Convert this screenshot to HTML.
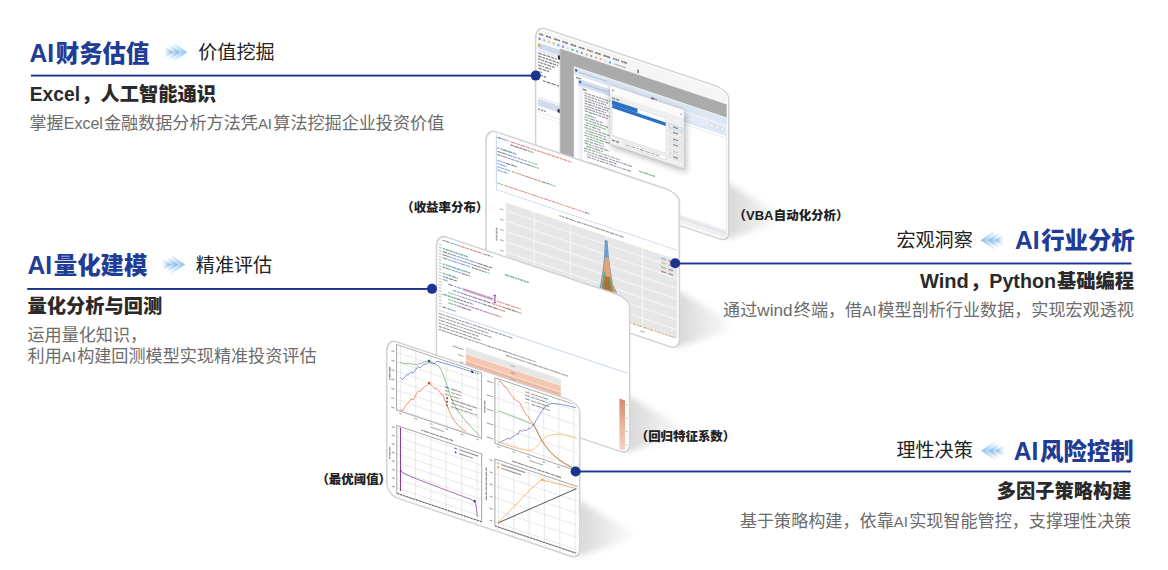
<!DOCTYPE html>
<html lang="zh"><head><meta charset="utf-8"><title>AI</title>
<style>html,body{margin:0;padding:0;background:#fff}body{width:1168px;height:570px;overflow:hidden;font-family:"Liberation Sans",sans-serif}svg{display:block;position:absolute;left:0;top:0}
.tl{position:absolute;left:0;top:0;width:1168px;height:570px;overflow:hidden}
.t{position:absolute;white-space:nowrap;line-height:1.05;color:transparent;font-family:"Liberation Sans",sans-serif}
svg text{font-family:"Liberation Sans","Noto Sans CJK SC",sans-serif}</style>
</head><body>
<div class="tl">
<div class="t" style="left:30.0px;top:36.1px;font-size:26.7px;font-weight:900">AI财务估值</div>
<div class="t" style="left:198.8px;top:41.1px;font-size:19.1px;font-weight:400">价值挖掘</div>
<div class="t" style="left:30.9px;top:81.6px;font-size:20.8px;font-weight:900">Excel，人工智能通识</div>
<div class="t" style="left:30.5px;top:111.0px;font-size:18.2px;font-weight:400">掌握Excel金融数据分析方法凭AI算法挖掘企业投资价值</div>
<div class="t" style="left:28.0px;top:248.4px;font-size:26.7px;font-weight:900">AI量化建模</div>
<div class="t" style="left:196.2px;top:253.3px;font-size:19.1px;font-weight:400">精准评估</div>
<div class="t" style="left:28.3px;top:294.2px;font-size:19.2px;font-weight:900">量化分析与回测</div>
<div class="t" style="left:28.0px;top:324.8px;font-size:17.1px;font-weight:400">运用量化知识，</div>
<div class="t" style="left:28.0px;top:344.2px;font-size:18.2px;font-weight:400">利用AI构建回测模型实现精准投资评估</div>
<div class="t" style="left:1015.4px;top:223.7px;font-size:26.7px;font-weight:900">AI行业分析</div>
<div class="t" style="left:897.1px;top:228.6px;font-size:19.1px;font-weight:400">宏观洞察</div>
<div class="t" style="left:920.4px;top:270.1px;font-size:20.8px;font-weight:900">Wind，Python基础编程</div>
<div class="t" style="left:723.7px;top:299.1px;font-size:18.2px;font-weight:400">通过wind终端，借AI模型剖析行业数据，实现宏观透视</div>
<div class="t" style="left:1014.2px;top:434.3px;font-size:26.7px;font-weight:900">AI风险控制</div>
<div class="t" style="left:897.0px;top:438.6px;font-size:19.1px;font-weight:400">理性决策</div>
<div class="t" style="left:997.5px;top:480.0px;font-size:19.2px;font-weight:900">多因子策略构建</div>
<div class="t" style="left:740.4px;top:509.6px;font-size:18.2px;font-weight:400">基于策略构建，依靠AI实现智能管控，支撑理性决策</div>
<div class="t" style="left:741.6px;top:207.9px;font-size:12.6px;font-weight:900">（VBA自动化分析）</div>
<div class="t" style="left:409.2px;top:200.0px;font-size:12.4px;font-weight:900">（收益率分布）</div>
<div class="t" style="left:643.7px;top:429.6px;font-size:12.4px;font-weight:900">（回归特征系数）</div>
<div class="t" style="left:324.4px;top:472.6px;font-size:12.4px;font-weight:900">（最优阈值）</div>
</div>
<svg width="1168" height="570" viewBox="0 0 1168 570">
<defs>
<linearGradient id="ar" x1="0" x2="1" y1="0" y2="0"><stop offset="0" stop-color="#6eb0e6" stop-opacity="0"/><stop offset="1" stop-color="#6eb0e6" stop-opacity="0.85"/></linearGradient>
<linearGradient id="al" x1="1" x2="0" y1="0" y2="0"><stop offset="0" stop-color="#6eb0e6" stop-opacity="0"/><stop offset="1" stop-color="#6eb0e6" stop-opacity="0.85"/></linearGradient>
<filter id="blur8" x="-50%%" y="-50%%" width="200%%" height="200%%"><feGaussianBlur stdDeviation="8"/></filter>
<filter id="blur3" x="-50%%" y="-50%%" width="200%%" height="200%%"><feGaussianBlur stdDeviation="3"/></filter>
</defs>
<rect width="1168" height="570" fill="#fff"/>
<text y="61.9" fill="#213c96" font-weight="900"><tspan x="29.5" font-size="26" textLength="24.6" lengthAdjust="spacingAndGlyphs">AI</tspan><tspan x="55.8" font-size="23.4">财务估值</tspan></text>
<polygon fill="url(#ar)" points="164.40,46.10 164.40,58.30 173.10,52.20"/><polygon fill="url(#ar)" points="168.10,43.60 168.10,60.80 180.00,52.20"/><polygon fill="url(#ar)" points="171.90,41.40 171.90,63.00 187.20,52.20"/>
<text x="198.2" y="59.4" font-size="19.1" fill="#222">价值挖掘</text>
<text y="100.5" fill="#2a2a2a" font-weight="900"><tspan x="29.8" font-size="19.5" textLength="50.2" lengthAdjust="spacingAndGlyphs">Excel</tspan><tspan x="81.2" font-size="19.25">，人工智能通识</tspan></text>
<text y="128.5" fill="#6c6c6c" font-size="17.1"><tspan x="29.5">掌握</tspan><tspan x="63.7" font-size="16" textLength="39.2" lengthAdjust="spacingAndGlyphs">Excel</tspan><tspan x="104.0">金融数据分析方法凭</tspan><tspan x="257.9" font-size="15.5" textLength="14.1" lengthAdjust="spacingAndGlyphs">AI</tspan><tspan x="273.3">算法挖掘企业投资价值</tspan></text>
<text y="274.2" fill="#213c96" font-weight="900"><tspan x="27.5" font-size="26" textLength="24.6" lengthAdjust="spacingAndGlyphs">AI</tspan><tspan x="53.8" font-size="23.4">量化建模</tspan></text>
<polygon fill="url(#ar)" points="162.30,258.50 162.30,270.70 171.00,264.60"/><polygon fill="url(#ar)" points="166.00,256.00 166.00,273.20 177.90,264.60"/><polygon fill="url(#ar)" points="169.80,253.80 169.80,275.40 185.10,264.60"/>
<text x="195.8" y="271.7" font-size="19.1" fill="#222">精准评估</text>
<text x="27.5" y="312.5" font-size="19.25" font-weight="900" fill="#2a2a2a">量化分析与回测</text>
<text x="27.5" y="340.7" font-size="17.1" fill="#6c6c6c">运用量化知识，</text>
<text y="361.8" fill="#6c6c6c" font-size="17.1"><tspan x="27.6">利用</tspan><tspan x="61.8" font-size="15.5" textLength="14.1" lengthAdjust="spacingAndGlyphs">AI</tspan><tspan x="77.2">构建回测模型实现精准投资评估</tspan></text>
<text y="249.4" fill="#213c96" font-weight="900"><tspan x="1014.9" font-size="26" textLength="24.6" lengthAdjust="spacingAndGlyphs">AI</tspan><tspan x="1041.2" font-size="23.4">行业分析</tspan></text>
<polygon fill="url(#al)" points="1003.50,234.20 1003.50,246.40 994.80,240.30"/><polygon fill="url(#al)" points="999.80,231.70 999.80,248.90 987.90,240.30"/><polygon fill="url(#al)" points="996.00,229.50 996.00,251.10 980.70,240.30"/>
<text x="896.4" y="247.0" font-size="19.1" fill="#222">宏观洞察</text>
<text y="287.6" fill="#2a2a2a" font-weight="900"><tspan x="920.0" font-size="20" textLength="48.9" lengthAdjust="spacingAndGlyphs">Wind</tspan><tspan x="970.0" font-size="19.25">，</tspan><tspan x="989.3" font-size="19.7" textLength="66.7" lengthAdjust="spacingAndGlyphs">Python</tspan><tspan x="1057.0" font-size="19.25">基础编程</tspan></text>
<text y="316.2" fill="#6c6c6c" font-size="17.1"><tspan x="723.1">通过</tspan><tspan x="757.3" font-size="17" textLength="35.3" lengthAdjust="spacingAndGlyphs">wind</tspan><tspan x="793.8">终端，借</tspan><tspan x="862.2" font-size="15.5" textLength="14.1" lengthAdjust="spacingAndGlyphs">AI</tspan><tspan x="877.5">模型剖析行业数据，实现宏观透视</tspan></text>
<text y="459.9" fill="#213c96" font-weight="900"><tspan x="1013.7" font-size="26" textLength="24.6" lengthAdjust="spacingAndGlyphs">AI</tspan><tspan x="1040.0" font-size="23.4">风险控制</tspan></text>
<polygon fill="url(#al)" points="1004.00,444.70 1004.00,456.90 995.30,450.80"/><polygon fill="url(#al)" points="1000.30,442.20 1000.30,459.40 988.40,450.80"/><polygon fill="url(#al)" points="996.50,440.00 996.50,461.60 981.20,450.80"/>
<text x="896.4" y="457.0" font-size="19.1" fill="#222">理性决策</text>
<text x="996.7" y="498.3" font-size="19.25" font-weight="900" fill="#2a2a2a">多因子策略构建</text>
<text y="526.7" fill="#6c6c6c" font-size="17.1"><tspan x="739.9">基于策略构建，依靠</tspan><tspan x="893.8" font-size="15.5" textLength="14.1" lengthAdjust="spacingAndGlyphs">AI</tspan><tspan x="909.2">实现智能管控，支撑理性决策</tspan></text>
<text y="219.8" fill="#222" font-weight="900" font-size="12.45"><tspan x="733.5">（</tspan><tspan x="746.0" font-size="12.6" textLength="27.5" lengthAdjust="spacingAndGlyphs">VBA</tspan><tspan x="773.8">自动化分析）</tspan></text>
<text x="401.2" y="211.8" font-size="12.45" font-weight="900" fill="#222">（收益率分布）</text>
<text x="635.7" y="441.3" font-size="12.45" font-weight="900" fill="#222">（回归特征系数）</text>
<text x="316.4" y="484.4" font-size="12.45" font-weight="900" fill="#222">（最优阈值）</text>
<linearGradient id="sh0" gradientUnits="userSpaceOnUse" x1="729.3" x2="785.3" y1="0" y2="0"><stop offset="0" stop-color="#000" stop-opacity="0.15"/><stop offset="1" stop-color="#000" stop-opacity="0"/></linearGradient>
<polygon filter="url(#blur3)" fill="url(#sh0)" points="725.3,181.8 783.3,215.8 783.3,220.8 725.3,239.8"/>
<g transform="matrix(1 0.3350 0 1 535.00 24.70)">
<path d="M10.10 0.60 L179.70 0.60 A14.00 8.50 0 0 1 193.70 9.10 L193.70 143.40 A9.00 9.00 0 0 1 184.70 152.40 L11.60 152.40 A11.00 12.50 0 0 1 0.60 139.90 L0.60 13.60 A9.50 13.00 0 0 1 10.10 0.60 Z" fill="#fff" stroke="#d2d4d4" stroke-width="1.6"/>
<clipPath id="pc0"><path d="M10.10 2.60 L179.70 2.60 A12.00 6.50 0 0 1 191.70 9.10 L191.70 143.40 A7.00 7.00 0 0 1 184.70 150.40 L11.60 150.40 A9.00 10.50 0 0 1 2.60 139.90 L2.60 13.60 A7.50 11.00 0 0 1 10.10 2.60 Z"/></clipPath>
<g clip-path="url(#pc0)">
<rect x="0.00" y="0.00" width="194.30" height="153.00" fill="#fff"/><rect x="0.00" y="0.00" width="194.30" height="15.50" fill="#f5f5f5"/><path d="M3.2 7.70h2.6M6.1 7.70h2.1" stroke="#222" stroke-width="1.68" stroke-opacity="0.58" fill="none"/><path d="M11.0 7.70h2.1M13.5 7.70h2.4" stroke="#222" stroke-width="1.68" stroke-opacity="0.58" fill="none"/><path d="M19.2 7.70h3.2M22.7 7.70h2.3" stroke="#222" stroke-width="1.68" stroke-opacity="0.58" fill="none"/><path d="M27.4 7.70h1.9M29.7 7.70h3.1" stroke="#222" stroke-width="1.68" stroke-opacity="0.58" fill="none"/><path d="M35.6 7.70h2.5M38.5 7.70h2.6" stroke="#222" stroke-width="1.68" stroke-opacity="0.58" fill="none"/><path d="M43.8 7.70h2.7M46.9 7.70h2.7" stroke="#222" stroke-width="1.68" stroke-opacity="0.58" fill="none"/><path d="M52.0 7.70h1.7M54.0 7.70h1.8M56.2 7.70h1.6" stroke="#222" stroke-width="1.68" stroke-opacity="0.58" fill="none"/><path d="M60.2 7.70h2.8M63.3 7.70h2.4" stroke="#222" stroke-width="1.68" stroke-opacity="0.58" fill="none"/><path d="M68.4 7.70h3.2M71.9 7.70h3.2" stroke="#222" stroke-width="1.68" stroke-opacity="0.58" fill="none"/><path d="M78.2 7.70h2.0M80.6 7.70h2.0M83.0 7.70h1.0" stroke="#222" stroke-width="1.68" stroke-opacity="0.58" fill="none"/><path d="M86.4 7.70h2.1M88.9 7.70h2.1M91.3 7.70h0.9" stroke="#222" stroke-width="1.68" stroke-opacity="0.58" fill="none"/><rect x="3.60" y="11.50" width="1.90" height="2.10" fill="#3b5fc4" opacity="0.8"/><rect x="8.30" y="11.50" width="1.90" height="2.10" fill="#aaa" opacity="0.8"/><rect x="13.00" y="11.50" width="1.90" height="2.10" fill="#bbb" opacity="0.8"/><rect x="17.70" y="11.50" width="1.90" height="2.10" fill="#d9a520" opacity="0.8"/><rect x="22.40" y="11.50" width="1.90" height="2.10" fill="#4a78d0" opacity="0.8"/><rect x="27.10" y="11.50" width="1.90" height="2.10" fill="#4a78d0" opacity="0.8"/><rect x="31.80" y="11.50" width="1.90" height="2.10" fill="#ccc" opacity="0.8"/><rect x="36.50" y="11.50" width="1.90" height="2.10" fill="#3aa04a" opacity="0.8"/><rect x="41.20" y="11.50" width="1.90" height="2.10" fill="#5b8ad8" opacity="0.8"/><rect x="45.90" y="11.50" width="1.90" height="2.10" fill="#5b8ad8" opacity="0.8"/><rect x="50.60" y="11.50" width="1.90" height="2.10" fill="#d09a4a" opacity="0.8"/><rect x="55.30" y="11.50" width="1.90" height="2.10" fill="#6a7fd8" opacity="0.8"/><rect x="60.00" y="11.50" width="1.90" height="2.10" fill="#d0a840" opacity="0.8"/><rect x="64.70" y="11.50" width="1.90" height="2.10" fill="#d89a48" opacity="0.8"/><rect x="69.40" y="11.50" width="1.90" height="2.10" fill="#ccc" opacity="0.8"/><rect x="74.10" y="11.50" width="1.90" height="2.10" fill="#3f7fe0" opacity="0.8"/><path d="M79.0 12.60h12.0" stroke="#555" stroke-width="1.28" stroke-opacity="0.40" fill="none"/><rect x="102.60" y="10.40" width="0.90" height="3.60" fill="#222"/><rect x="25.50" y="15.50" width="194.30" height="153.00" fill="#ababab"/><rect x="2.50" y="16.80" width="22.50" height="5.60" fill="#cddaec"/><rect x="3.20" y="18.20" width="2.20" height="2.20" fill="#d9a520"/><rect x="22.80" y="22.60" width="2.20" height="4.20" fill="#333"/><rect x="2.50" y="22.60" width="20.30" height="3.20" fill="#e9eef6"/><path d="M3.2 27.20h3.6M7.6 27.20h3.4M11.8 27.20h3.6M16.2 27.20h2.7M19.7 27.20h1.9" stroke="#1a1a1a" stroke-width="1.52" stroke-opacity="0.49" fill="none"/><path d="M3.2 30.20h3.5M7.5 30.20h2.6M10.9 30.20h2.5M14.2 30.20h2.5M17.5 30.20h3.4M21.6 30.20h2.6" stroke="#1a1a1a" stroke-width="1.52" stroke-opacity="0.49" fill="none"/><path d="M3.2 33.20h2.5M6.5 33.20h2.6M9.8 33.20h3.0M13.6 33.20h3.8M18.2 33.20h2.9M21.9 33.20h1.3" stroke="#1a1a1a" stroke-width="1.52" stroke-opacity="0.49" fill="none"/><path d="M3.2 36.20h1.5M5.5 36.20h2.4M8.7 36.20h2.7M12.2 36.20h3.6M16.7 36.20h2.9" stroke="#1a1a1a" stroke-width="1.52" stroke-opacity="0.49" fill="none"/><path d="M3.2 39.20h3.6M7.6 39.20h1.6M10.0 39.20h3.6M14.4 39.20h1.9" stroke="#1a1a1a" stroke-width="1.52" stroke-opacity="0.49" fill="none"/><path d="M3.2 42.20h3.8M7.8 42.20h3.4M12.0 42.20h2.1" stroke="#1a1a1a" stroke-width="1.52" stroke-opacity="0.49" fill="none"/><path d="M3.2 45.60h4.0" stroke="#2e8e3e" stroke-width="1.44" stroke-opacity="0.58" fill="none"/><path d="M5.2 48.80h2.7M8.9 48.80h2.3" stroke="#222" stroke-width="1.44" stroke-opacity="0.54" fill="none"/><path d="M8.0 53.40h2.5M11.5 53.40h4.0M16.4 53.40h4.5M22.0 53.40h2.0" stroke="#222" stroke-width="1.44" stroke-opacity="0.54" fill="none"/><line x1="2.50" y1="71.50" x2="24.50" y2="71.50" stroke="#c8c8c8" stroke-width="0.50"/><rect x="2.50" y="73.00" width="22.50" height="6.80" fill="#d0dcee"/><rect x="22.60" y="76.50" width="2.20" height="3.40" fill="#333"/><path d="M3.2 83.20h1.7M5.9 83.20h2.4M9.2 83.20h1.6" stroke="#222" stroke-width="1.44" stroke-opacity="0.54" fill="none"/><line x1="2.50" y1="86.50" x2="24.50" y2="86.50" stroke="#d5d5d5" stroke-width="0.50"/><line x1="2.50" y1="90.00" x2="24.50" y2="90.00" stroke="#e2e2e2" stroke-width="0.50"/><line x1="25.20" y1="15.50" x2="25.20" y2="153.00" stroke="#8e8e8e" stroke-width="0.50"/><rect x="39.00" y="29.00" width="194.30" height="153.00" fill="#fff"/><rect x="39.00" y="29.00" width="194.30" height="7.60" fill="#dde6f3"/><rect x="40.20" y="30.60" width="2.00" height="2.60" fill="#2f5fb0"/><path d="M44.0 32.60h28.0" stroke="#8d9bb5" stroke-width="1.20" stroke-opacity="0.43" fill="none"/><line x1="39.00" y1="29.00" x2="194.30" y2="29.00" stroke="#f4f7fb" stroke-width="0.70"/><path d="M116.0 34.40h3.6M120.6 34.40h0.9" stroke="#111" stroke-width="1.60" stroke-opacity="0.65" fill="none"/><path d="M41.2 39.00h5.0" stroke="#222" stroke-width="1.44" stroke-opacity="0.58" fill="none"/><rect x="104.00" y="37.00" width="194.30" height="9.50" fill="#e4ebf6"/><line x1="104.00" y1="46.60" x2="194.30" y2="46.60" stroke="#b9c8e2" stroke-width="0.50"/><line x1="104.00" y1="49.60" x2="194.30" y2="49.60" stroke="#cfd9ea" stroke-width="0.50"/><rect x="174.50" y="40.00" width="4.00" height="3.60" fill="#eef2f9" stroke="#b5c2da" stroke-width="0.35"/><rect x="180.00" y="40.00" width="4.00" height="3.60" fill="#eef2f9" stroke="#b5c2da" stroke-width="0.35"/><rect x="185.50" y="40.00" width="4.00" height="3.60" fill="#eef2f9" stroke="#b5c2da" stroke-width="0.35"/><line x1="39.20" y1="29.00" x2="39.20" y2="153.00" stroke="#e8eef8" stroke-width="0.80"/><rect x="43.00" y="39.50" width="62.00" height="153.00" fill="#fff"/><rect x="43.00" y="39.50" width="62.00" height="7.00" fill="#d3dff1"/><rect x="44.20" y="41.00" width="2.00" height="2.60" fill="#2f5fb0"/><path d="M48.0 43.00h24.0" stroke="#8d9bb5" stroke-width="1.20" stroke-opacity="0.43" fill="none"/><rect x="43.00" y="46.50" width="4.00" height="153.00" fill="#f1f4f9"/><line x1="47.00" y1="46.50" x2="47.00" y2="153.00" stroke="#c9d3e4" stroke-width="0.40"/><path d="M47.6 48.60h4.0" stroke="#222" stroke-width="1.44" stroke-opacity="0.58" fill="none"/><path d="M49.5 51.60h2.5M52.7 51.60h3.4M56.8 51.60h3.4M61.0 51.60h1.9M63.6 51.60h2.6M66.9 51.60h2.5M70.1 51.60h2.9M73.7 51.60h1.3" stroke="#2a2346" stroke-width="1.28" stroke-opacity="0.47" fill="none"/><path d="M49.5 54.15h2.9M53.1 54.15h2.4M56.2 54.15h3.2M60.1 54.15h1.9M62.7 54.15h2.2M65.6 54.15h2.2M68.5 54.15h1.6M70.8 54.15h2.2" stroke="#2a2346" stroke-width="1.28" stroke-opacity="0.47" fill="none"/><path d="M49.5 56.70h2.9M53.1 56.70h3.0M56.8 56.70h2.2M59.7 56.70h2.7M63.1 56.70h2.2M66.0 56.70h2.9M69.5 56.70h1.5" stroke="#2a2346" stroke-width="1.28" stroke-opacity="0.47" fill="none"/><path d="M49.5 59.25h2.9M53.1 59.25h3.6M57.4 59.25h2.8M61.0 59.25h1.5M63.2 59.25h2.5M66.3 59.25h1.9M69.0 59.25h2.9M72.5 59.25h1.6" stroke="#2a2346" stroke-width="1.28" stroke-opacity="0.47" fill="none"/><path d="M49.5 61.80h3.0M53.2 61.80h3.5M57.5 61.80h2.0M60.2 61.80h1.8M62.7 61.80h3.9M67.3 61.80h3.3M71.3 61.80h1.7" stroke="#2a2346" stroke-width="1.28" stroke-opacity="0.47" fill="none"/><path d="M49.5 64.35h1.6M51.8 64.35h3.0M55.5 64.35h3.4M59.6 64.35h2.4M62.7 64.35h2.9M66.3 64.35h2.7M69.7 64.35h1.3" stroke="#2a2346" stroke-width="1.28" stroke-opacity="0.47" fill="none"/><path d="M49.5 66.90h3.2M53.4 66.90h3.2M57.3 66.90h2.7M60.7 66.90h2.1M63.5 66.90h3.7M67.9 66.90h2.4M71.0 66.90h2.2M73.9 66.90h1.1" stroke="#2a2346" stroke-width="1.28" stroke-opacity="0.47" fill="none"/><path d="M49.5 69.45h3.5M53.7 69.45h3.4M57.8 69.45h2.2M60.7 69.45h1.8M63.3 69.45h2.8M66.8 69.45h3.0M70.6 69.45h2.4" stroke="#2a2346" stroke-width="1.28" stroke-opacity="0.47" fill="none"/><path d="M50.0 73.00h2.5M53.0 73.00h5.8M59.4 73.00h1.6" stroke="#2f9a3c" stroke-width="1.36" stroke-opacity="0.58" fill="none"/><path d="M49.5 75.60h2.1M52.4 75.60h2.0M55.2 75.60h4.8M60.8 75.60h2.9M64.6 75.60h2.9" stroke="#23233a" stroke-width="1.20" stroke-opacity="0.45" fill="none"/><path d="M49.5 78.20h3.7M54.0 78.20h2.5M57.3 78.20h3.6M61.8 78.20h2.5M65.0 78.20h4.0M69.8 78.20h3.2" stroke="#23233a" stroke-width="1.20" stroke-opacity="0.45" fill="none"/><path d="M51.0 80.80h3.7M55.2 80.80h2.5M58.2 80.80h3.7M62.4 80.80h3.8M66.7 80.80h3.8" stroke="#2f9a3c" stroke-width="1.36" stroke-opacity="0.58" fill="none"/><path d="M49.5 83.40h4.1M54.4 83.40h1.8M57.0 83.40h4.4M62.2 83.40h3.3" stroke="#23233a" stroke-width="1.20" stroke-opacity="0.45" fill="none"/><path d="M49.5 86.00h3.1M53.4 86.00h3.2M57.4 86.00h1.9M60.1 86.00h2.5M63.4 86.00h2.9M67.0 86.00h4.1M71.9 86.00h2.6" stroke="#23233a" stroke-width="1.20" stroke-opacity="0.45" fill="none"/><path d="M51.0 88.60h2.8M54.3 88.60h5.2M60.0 88.60h2.3M62.8 88.60h5.4M68.7 88.60h2.3" stroke="#2f9a3c" stroke-width="1.36" stroke-opacity="0.58" fill="none"/><path d="M49.5 91.20h3.0M53.3 91.20h4.9M59.0 91.20h4.3M64.1 91.20h2.7M67.6 91.20h3.9" stroke="#23233a" stroke-width="1.20" stroke-opacity="0.45" fill="none"/><path d="M49.5 93.80h2.2M52.5 93.80h1.8M55.1 93.80h2.0M57.9 93.80h2.0M60.8 93.80h2.8M64.4 93.80h4.8M70.0 93.80h4.5" stroke="#23233a" stroke-width="1.20" stroke-opacity="0.45" fill="none"/><path d="M51.0 96.40h3.4M54.9 96.40h2.8M58.2 96.40h5.4M64.1 96.40h2.2M66.7 96.40h2.1" stroke="#2f9a3c" stroke-width="1.36" stroke-opacity="0.58" fill="none"/><path d="M49.5 99.00h4.5M54.8 99.00h3.1M58.7 99.00h4.6M64.1 99.00h2.4M67.3 99.00h1.7" stroke="#23233a" stroke-width="1.20" stroke-opacity="0.45" fill="none"/><path d="M49.5 101.60h3.6M53.9 101.60h2.6M57.3 101.60h1.7M59.8 101.60h4.3M64.9 101.60h3.4M69.1 101.60h3.7M73.6 101.60h0.9" stroke="#23233a" stroke-width="1.20" stroke-opacity="0.45" fill="none"/><path d="M51.0 104.20h5.7M57.2 104.20h2.3M60.0 104.20h5.2M65.7 104.20h2.3" stroke="#2f9a3c" stroke-width="1.36" stroke-opacity="0.58" fill="none"/><path d="M49.0 106.80h3.6M53.4 106.80h3.0M57.2 106.80h2.9M60.9 106.80h1.6M63.4 106.80h2.1M66.3 106.80h1.5M68.6 106.80h3.6M73.0 106.80h1.6M75.4 106.80h4.5M80.7 106.80h1.9M83.4 106.80h1.6" stroke="#23233a" stroke-width="1.20" stroke-opacity="0.45" fill="none"/><path d="M49.0 109.40h3.0M52.8 109.40h2.9M56.5 109.40h2.9M60.3 109.40h2.2M63.3 109.40h4.5M68.6 109.40h4.8M74.3 109.40h2.6M77.6 109.40h2.4M80.9 109.40h3.9M85.6 109.40h1.9M88.3 109.40h3.7M92.8 109.40h4.2" stroke="#23233a" stroke-width="1.20" stroke-opacity="0.45" fill="none"/><path d="M52.0 112.00h1.6M54.4 112.00h2.1M57.2 112.00h1.7M59.7 112.00h1.9M62.4 112.00h2.1M65.3 112.00h4.6M70.7 112.00h2.2M73.8 112.00h3.8M78.3 112.00h3.1" stroke="#23233a" stroke-width="1.20" stroke-opacity="0.45" fill="none"/><path d="M52.0 114.60h3.8M56.6 114.60h4.5M61.9 114.60h2.4M65.1 114.60h4.5M70.4 114.60h3.0M74.3 114.60h3.8M78.8 114.60h2.5M82.1 114.60h1.5M84.4 114.60h2.0M87.3 114.60h3.5M91.5 114.60h4.5" stroke="#23233a" stroke-width="1.20" stroke-opacity="0.45" fill="none"/><path d="M54.0 119.80h4.3M59.1 119.80h4.7M64.7 119.80h4.7M70.2 119.80h2.8M73.8 119.80h2.3M76.9 119.80h2.9" stroke="#23233a" stroke-width="1.20" stroke-opacity="0.45" fill="none"/><path d="M55.0 122.40h3.1M58.9 122.40h3.9M63.6 122.40h1.8M66.2 122.40h2.7M69.7 122.40h2.8M73.3 122.40h2.9M77.0 122.40h4.4M82.2 122.40h3.6M86.5 122.40h2.5" stroke="#23233a" stroke-width="1.20" stroke-opacity="0.45" fill="none"/><path d="M56.0 125.00h4.9M61.7 125.00h4.9M67.4 125.00h3.8M71.9 125.00h2.8M75.5 125.00h4.6M80.9 125.00h3.3M85.1 125.00h4.3M90.2 125.00h2.8M93.8 125.00h2.2" stroke="#23233a" stroke-width="1.20" stroke-opacity="0.45" fill="none"/><path d="M104.0 111.60h4.3M108.8 111.60h4.3M113.5 111.60h2.6M116.6 111.60h3.4" stroke="#2f9a3c" stroke-width="1.36" stroke-opacity="0.61" fill="none"/><rect x="75" y="36.5" width="76" height="60" fill="#000" fill-opacity="0.28" filter="url(#blur3)"/><rect x="75.00" y="35.50" width="74.00" height="58.50" fill="#f0f0f0" stroke="#c9c9c9" stroke-width="0.4"/><rect x="75.20" y="35.70" width="73.60" height="8.00" fill="#fbfbfb"/><path d="M77.0 39.60h1.6" stroke="#333" stroke-width="1.44" stroke-opacity="0.58" fill="none"/><path d="M145.4 40.60h1.6" stroke="#444" stroke-width="1.12" stroke-opacity="0.58" fill="none"/><path d="M77.0 47.40h3.2M81.2 47.40h3.2" stroke="#222" stroke-width="1.36" stroke-opacity="0.54" fill="none"/><rect x="77.00" y="49.60" width="54.00" height="35.20" fill="#fff" stroke="#b5b5b5" stroke-width="0.3"/><rect x="77.00" y="49.80" width="25.50" height="4.20" fill="#2a70c6"/><rect x="77.30" y="54.00" width="53.40" height="3.40" fill="#2a70c6"/><rect x="134.00" y="54.00" width="13.20" height="3.90" fill="#ececec" stroke="#5a9be6" stroke-width="0.28"/><path d="M138.0 56.00h5.0" stroke="#222" stroke-width="1.12" stroke-opacity="0.54" fill="none"/><rect x="134.00" y="59.40" width="13.20" height="3.90" fill="#ececec" stroke="#c4c4c4" stroke-width="0.28"/><path d="M138.0 61.40h5.0" stroke="#222" stroke-width="1.12" stroke-opacity="0.54" fill="none"/><rect x="134.00" y="66.20" width="13.20" height="3.90" fill="#ececec" stroke="#c4c4c4" stroke-width="0.28"/><path d="M138.0 68.20h5.0" stroke="#222" stroke-width="1.12" stroke-opacity="0.54" fill="none"/><rect x="134.00" y="71.60" width="13.20" height="3.90" fill="#ececec" stroke="#c4c4c4" stroke-width="0.28"/><path d="M138.0 73.60h5.0" stroke="#222" stroke-width="1.12" stroke-opacity="0.54" fill="none"/><rect x="134.00" y="78.40" width="13.20" height="3.90" fill="#ececec" stroke="#c4c4c4" stroke-width="0.28"/><path d="M138.0 80.40h5.0" stroke="#aaa" stroke-width="1.12" stroke-opacity="0.54" fill="none"/><rect x="134.00" y="83.80" width="13.20" height="3.90" fill="#ececec" stroke="#c4c4c4" stroke-width="0.28"/><path d="M138.0 85.80h5.0" stroke="#222" stroke-width="1.12" stroke-opacity="0.54" fill="none"/><path d="M77.0 89.60h3.1M81.1 89.60h2.9" stroke="#222" stroke-width="1.36" stroke-opacity="0.54" fill="none"/><rect x="90.00" y="87.60" width="41.00" height="3.80" fill="#fff" stroke="#b5b5b5" stroke-width="0.3"/><path d="M91.0 89.60h4.2M96.2 89.60h4.4M101.6 89.60h2.1M104.7 89.60h4.5M110.2 89.60h4.4M115.6 89.60h4.3M120.9 89.60h3.4" stroke="#333" stroke-width="1.12" stroke-opacity="0.47" fill="none"/><rect x="25.50" y="141.50" width="194.30" height="3.40" fill="#ececec"/><line x1="39.00" y1="145.10" x2="194.30" y2="145.10" stroke="#8fa8dc" stroke-width="0.50" stroke-dasharray="1.6 0.8"/><rect x="25.50" y="145.50" width="194.30" height="4.20" fill="#efefef"/><rect x="25.50" y="149.70" width="194.30" height="1.20" fill="#fff"/><line x1="25.50" y1="151.30" x2="194.30" y2="151.30" stroke="#9c9c9c" stroke-width="0.80"/>
</g>
</g>
<rect x="30.90" y="74.65" width="505.10" height="1.9" fill="#1c3390"/>
<circle cx="535.70" cy="75.60" r="5" fill="#1c3390"/>
<linearGradient id="sh1" gradientUnits="userSpaceOnUse" x1="680.0" x2="736.0" y1="0" y2="0"><stop offset="0" stop-color="#000" stop-opacity="0.15"/><stop offset="1" stop-color="#000" stop-opacity="0"/></linearGradient>
<polygon filter="url(#blur3)" fill="url(#sh1)" points="676.0,289.5 734.0,323.5 734.0,328.5 676.0,347.5"/>
<g transform="matrix(1 0.3350 0 1 485.40 127.70)">
<path d="M10.10 0.60 L180.00 0.60 A14.00 8.50 0 0 1 194.00 9.10 L194.00 148.00 A9.00 9.00 0 0 1 185.00 157.00 L11.60 157.00 A11.00 12.50 0 0 1 0.60 144.50 L0.60 13.60 A9.50 13.00 0 0 1 10.10 0.60 Z" fill="#fff" stroke="#d2d4d4" stroke-width="1.6"/>
<clipPath id="pc1"><path d="M10.10 2.60 L180.00 2.60 A12.00 6.50 0 0 1 192.00 9.10 L192.00 148.00 A7.00 7.00 0 0 1 185.00 155.00 L11.60 155.00 A9.00 10.50 0 0 1 2.60 144.50 L2.60 13.60 A7.50 11.00 0 0 1 10.10 2.60 Z"/></clipPath>
<g clip-path="url(#pc1)">
<rect x="0.00" y="0.00" width="194.60" height="157.60" fill="#fff"/><line x1="11.00" y1="2.00" x2="11.00" y2="58.30" stroke="#9db4e6" stroke-width="0.50"/><line x1="192.00" y1="2.00" x2="192.00" y2="58.30" stroke="#9db4e6" stroke-width="0.50"/><line x1="11.00" y1="58.30" x2="192.00" y2="58.30" stroke="#7f9de0" stroke-width="0.42" stroke-dasharray="1.8 0.6"/><path d="M12.0 5.60h4.0" stroke="#2a2a38" stroke-width="1.20" stroke-opacity="0.58" fill="none"/><path d="M16.5 5.60h4.7M21.8 5.60h1.7" stroke="#3565b8" stroke-width="1.20" stroke-opacity="0.58" fill="none"/><path d="M25.0 5.60h4.8M30.4 5.60h4.1M35.2 5.60h4.5M40.2 5.60h4.7M45.6 5.60h2.0M48.2 5.60h2.8M51.6 5.60h2.5M54.7 5.60h2.5M57.8 5.60h2.3M60.7 5.60h4.7M66.0 5.60h3.6M70.2 5.60h3.4M74.2 5.60h3.1M77.9 5.60h3.8M82.3 5.60h2.0M84.8 5.60h1.2" stroke="#c0392b" stroke-width="1.20" stroke-opacity="0.54" fill="none"/><path d="M25.0 8.80h3.0M28.6 8.80h4.8M34.0 8.80h3.1M37.7 8.80h4.0M42.3 8.80h1.7" stroke="#2a2a38" stroke-width="1.20" stroke-opacity="0.58" fill="none"/><path d="M44.5 8.80h3.6" stroke="#2f9a3c" stroke-width="1.20" stroke-opacity="0.58" fill="none"/><path d="M12.0 16.10h1.7" stroke="#1a6b5a" stroke-width="1.44" stroke-opacity="0.65" fill="none"/><path d="M15.0 16.10h1.8M17.4 16.10h4.6M22.5 16.10h4.4M27.5 16.10h1.8M29.9 16.10h1.1" stroke="#2e7d6b" stroke-width="1.52" stroke-opacity="0.65" fill="none"/><path d="M12.0 19.60h3.5M16.1 19.60h4.1M20.8 19.60h1.2" stroke="#2a2a38" stroke-width="1.20" stroke-opacity="0.58" fill="none"/><path d="M22.5 19.60h4.5M27.6 19.60h4.3M32.5 19.60h2.6M35.7 19.60h2.3M38.6 19.60h3.1" stroke="#3565b8" stroke-width="1.20" stroke-opacity="0.58" fill="none"/><path d="M43.0 19.60h2.4M46.0 19.60h2.4M49.0 19.60h2.7" stroke="#2f9a3c" stroke-width="1.20" stroke-opacity="0.58" fill="none"/><path d="M12.0 22.80h2.6M15.2 22.80h2.0M17.8 22.80h1.5M19.9 22.80h1.8" stroke="#2a2a38" stroke-width="1.20" stroke-opacity="0.58" fill="none"/><path d="M22.5 22.80h2.6M25.7 22.80h3.7M30.1 22.80h3.9M34.5 22.80h3.3M38.5 22.80h2.0" stroke="#3565b8" stroke-width="1.20" stroke-opacity="0.58" fill="none"/><path d="M41.0 22.80h3.5M45.1 22.80h0.9" stroke="#2a2a38" stroke-width="1.20" stroke-opacity="0.58" fill="none"/><path d="M46.5 22.80h4.3M51.4 22.80h2.1" stroke="#2f9a3c" stroke-width="1.20" stroke-opacity="0.58" fill="none"/><path d="M12.0 28.60h4.3M16.9 28.60h3.1" stroke="#3565b8" stroke-width="1.20" stroke-opacity="0.58" fill="none"/><path d="M20.5 28.60h4.7M25.8 28.60h3.7M30.0 28.60h1.5" stroke="#2a2a38" stroke-width="1.20" stroke-opacity="0.58" fill="none"/><path d="M12.0 31.80h2.1M14.7 31.80h4.9M20.2 31.80h1.5" stroke="#3565b8" stroke-width="1.20" stroke-opacity="0.58" fill="none"/><path d="M12.0 35.00h3.0M15.6 35.00h3.2M19.4 35.00h2.7M22.7 35.00h2.1" stroke="#3565b8" stroke-width="1.20" stroke-opacity="0.58" fill="none"/><path d="M26.5 35.00h2.3M29.4 35.00h1.5M31.5 35.00h1.9M34.0 35.00h1.6M36.2 35.00h2.4M39.2 35.00h4.6M44.3 35.00h3.1M48.0 35.00h4.0M52.6 35.00h2.9" stroke="#c0392b" stroke-width="1.20" stroke-opacity="0.54" fill="none"/><path d="M56.5 35.00h4.1M61.2 35.00h3.1" stroke="#2a2a38" stroke-width="1.20" stroke-opacity="0.58" fill="none"/><path d="M65.0 35.00h2.4M68.0 35.00h2.0" stroke="#2f9a3c" stroke-width="1.20" stroke-opacity="0.58" fill="none"/><path d="M12.0 38.20h2.7M15.3 38.20h1.6M17.5 38.20h4.2" stroke="#3565b8" stroke-width="1.20" stroke-opacity="0.58" fill="none"/><path d="M12.0 51.30h3.2M15.8 51.30h1.9" stroke="#2f9a3c" stroke-width="1.20" stroke-opacity="0.58" fill="none"/><path d="M19.0 51.30h4.0M23.6 51.30h4.1M28.3 51.30h4.7M33.6 51.30h5.0M39.1 51.30h3.1M42.9 51.30h2.2M45.7 51.30h4.8M51.1 51.30h2.8M54.5 51.30h3.2M58.3 51.30h4.3M63.1 51.30h2.9M66.6 51.30h3.9M71.1 51.30h3.1M74.9 51.30h2.1M77.6 51.30h2.3M80.6 51.30h4.8M86.0 51.30h4.3M90.9 51.30h1.9M93.5 51.30h2.2M96.3 51.30h2.7" stroke="#c0392b" stroke-width="1.20" stroke-opacity="0.50" fill="none"/><path d="M99.5 51.30h2.6M102.7 51.30h1.3" stroke="#2a2a38" stroke-width="1.20" stroke-opacity="0.58" fill="none"/><path d="M74.0 63.20h1.7M76.3 63.20h2.4M79.4 63.20h3.8M83.8 63.20h4.9M89.3 63.20h1.6M91.5 63.20h4.0M96.1 63.20h1.7M98.4 63.20h2.5M101.5 63.20h1.8M103.9 63.20h2.4M106.9 63.20h2.2M109.6 63.20h4.7M115.0 63.20h4.6M120.2 63.20h3.7M124.5 63.20h4.2M129.3 63.20h3.5M133.4 63.20h4.6" stroke="#333" stroke-width="1.28" stroke-opacity="0.48" fill="none"/><rect x="20.50" y="68.00" width="194.60" height="79.00" fill="#e7e7e7"/><line x1="48.90" y1="68.00" x2="48.90" y2="147.00" stroke="#fff" stroke-width="0.60"/><line x1="85.20" y1="68.00" x2="85.20" y2="147.00" stroke="#fff" stroke-width="0.60"/><line x1="121.10" y1="68.00" x2="121.10" y2="147.00" stroke="#fff" stroke-width="0.60"/><line x1="157.10" y1="68.00" x2="157.10" y2="147.00" stroke="#fff" stroke-width="0.60"/><line x1="20.50" y1="76.20" x2="194.60" y2="76.20" stroke="#fff" stroke-width="0.60"/><path d="M14.6 76.20h3.6" stroke="#555" stroke-width="1.20" stroke-opacity="0.43" fill="none"/><line x1="20.50" y1="86.50" x2="194.60" y2="86.50" stroke="#fff" stroke-width="0.60"/><path d="M14.6 86.50h3.6" stroke="#555" stroke-width="1.20" stroke-opacity="0.43" fill="none"/><line x1="20.50" y1="96.80" x2="194.60" y2="96.80" stroke="#fff" stroke-width="0.60"/><path d="M14.6 96.80h3.6" stroke="#555" stroke-width="1.20" stroke-opacity="0.43" fill="none"/><line x1="20.50" y1="107.10" x2="194.60" y2="107.10" stroke="#fff" stroke-width="0.60"/><path d="M14.6 107.10h3.6" stroke="#555" stroke-width="1.20" stroke-opacity="0.43" fill="none"/><line x1="20.50" y1="117.40" x2="194.60" y2="117.40" stroke="#fff" stroke-width="0.60"/><path d="M14.6 117.40h3.6" stroke="#555" stroke-width="1.20" stroke-opacity="0.43" fill="none"/><line x1="20.50" y1="127.70" x2="194.60" y2="127.70" stroke="#fff" stroke-width="0.60"/><path d="M14.6 127.70h3.6" stroke="#555" stroke-width="1.20" stroke-opacity="0.43" fill="none"/><line x1="20.50" y1="138.00" x2="194.60" y2="138.00" stroke="#fff" stroke-width="0.60"/><path d="M14.6 138.00h3.6" stroke="#555" stroke-width="1.20" stroke-opacity="0.43" fill="none"/><path d="M11.2 96v13" stroke="#555" stroke-width="1.6" stroke-opacity="0.55" stroke-dasharray="3 0.6"/><polygon fill="#5f93cc" fill-opacity="0.90" points="119.4,72.0 122.3,72.0 122.6,78.0 123.3,86.0 124.5,96.0 125.9,104.0 126.9,110.0 127.7,114.0 131.1,120.0 133.9,147.0 111.3,147.0 113.3,126.0 115.3,116.0 116.9,106.0 118.3,94.0 119.0,82.0"/><polygon fill="#eaa36f" fill-opacity="0.97" points="119.8,89.0 123.2,89.0 124.3,99.0 125.7,107.0 127.7,114.0 130.9,121.0 132.1,130.0 133.7,147.0 112.3,147.0 114.5,126.0 116.7,113.0 118.5,100.0"/><polygon fill="#62a85c" fill-opacity="0.90" points="118.5,104.0 119.9,104.0 120.3,114.0 124.5,106.0 125.9,111.0 127.7,118.0 128.9,124.0 130.7,147.0 127.3,147.0 125.7,122.0 124.1,118.0 119.9,147.0 113.3,147.0 116.3,120.0"/><polygon fill="#b3623f" fill-opacity="0.80" points="119.7,108.0 123.5,108.0 125.5,119.0 127.3,126.0 128.9,147.0 115.3,147.0 117.9,122.0"/><line x1="129.30" y1="146.60" x2="186.00" y2="146.60" stroke="#eaa36f" stroke-width="0.80" stroke-dasharray="2.4 1.2"/><line x1="131.30" y1="146.70" x2="170.00" y2="146.70" stroke="#62a85c" stroke-width="0.60" stroke-dasharray="1.6 4"/><path d="M186.0 146.40h3.5" stroke="#4d7fc4" stroke-width="0.72" stroke-opacity="0.58" fill="none"/><path d="M175.8 71.60h5.0" stroke="#5f93cc" stroke-width="1.36" stroke-opacity="0.68" fill="none"/><path d="M183.0 71.60h4.6" stroke="#333" stroke-width="1.20" stroke-opacity="0.50" fill="none"/><path d="M175.8 75.95h5.0" stroke="#eaa36f" stroke-width="1.36" stroke-opacity="0.68" fill="none"/><path d="M183.0 75.95h4.6" stroke="#333" stroke-width="1.20" stroke-opacity="0.50" fill="none"/><path d="M175.8 80.30h5.0" stroke="#62a85c" stroke-width="1.36" stroke-opacity="0.68" fill="none"/><path d="M183.0 80.30h4.6" stroke="#333" stroke-width="1.20" stroke-opacity="0.50" fill="none"/><path d="M175.8 84.65h5.0" stroke="#c0503f" stroke-width="1.36" stroke-opacity="0.68" fill="none"/><path d="M183.0 84.65h4.6" stroke="#333" stroke-width="1.20" stroke-opacity="0.50" fill="none"/><path d="M46.5 151.30h4.8" stroke="#555" stroke-width="1.20" stroke-opacity="0.43" fill="none"/><path d="M82.8 151.30h4.8" stroke="#555" stroke-width="1.20" stroke-opacity="0.43" fill="none"/><path d="M118.7 151.30h4.8" stroke="#555" stroke-width="1.20" stroke-opacity="0.43" fill="none"/><path d="M154.7 151.30h4.8" stroke="#555" stroke-width="1.20" stroke-opacity="0.43" fill="none"/>
</g>
</g>
<rect x="675.50" y="262.55" width="456.00" height="1.9" fill="#1c3390"/>
<circle cx="675.20" cy="263.30" r="5" fill="#1c3390"/>
<linearGradient id="sh2" gradientUnits="userSpaceOnUse" x1="630.3" x2="686.3" y1="0" y2="0"><stop offset="0" stop-color="#000" stop-opacity="0.15"/><stop offset="1" stop-color="#000" stop-opacity="0"/></linearGradient>
<polygon filter="url(#blur3)" fill="url(#sh2)" points="626.3,394.4 684.3,428.4 684.3,433.4 626.3,452.4"/>
<g transform="matrix(1 0.3350 0 1 435.80 233.00)">
<path d="M10.10 0.60 L179.90 0.60 A14.00 8.50 0 0 1 193.90 9.10 L193.90 147.60 A9.00 9.00 0 0 1 184.90 156.60 L11.60 156.60 A11.00 12.50 0 0 1 0.60 144.10 L0.60 13.60 A9.50 13.00 0 0 1 10.10 0.60 Z" fill="#fff" stroke="#d2d4d4" stroke-width="1.6"/>
<clipPath id="pc2"><path d="M10.10 2.60 L179.90 2.60 A12.00 6.50 0 0 1 191.90 9.10 L191.90 147.60 A7.00 7.00 0 0 1 184.90 154.60 L11.60 154.60 A9.00 10.50 0 0 1 2.60 144.10 L2.60 13.60 A7.50 11.00 0 0 1 10.10 2.60 Z"/></clipPath>
<g clip-path="url(#pc2)">
<rect x="0.00" y="0.00" width="194.50" height="157.20" fill="#fff"/><path d="M2.6 4.90h3.2" stroke="#777" stroke-width="1.28" stroke-opacity="0.40" fill="none"/><path d="M2.6 10.00h3.2" stroke="#777" stroke-width="1.28" stroke-opacity="0.40" fill="none"/><path d="M2.6 13.10h3.2" stroke="#777" stroke-width="1.28" stroke-opacity="0.40" fill="none"/><path d="M2.6 16.20h3.2" stroke="#777" stroke-width="1.28" stroke-opacity="0.40" fill="none"/><path d="M2.6 19.30h3.2" stroke="#777" stroke-width="1.28" stroke-opacity="0.40" fill="none"/><path d="M2.6 22.40h3.2" stroke="#777" stroke-width="1.28" stroke-opacity="0.40" fill="none"/><path d="M2.6 25.50h3.2" stroke="#777" stroke-width="1.28" stroke-opacity="0.40" fill="none"/><path d="M2.6 28.60h3.2" stroke="#777" stroke-width="1.28" stroke-opacity="0.40" fill="none"/><path d="M2.6 31.70h3.2" stroke="#777" stroke-width="1.28" stroke-opacity="0.40" fill="none"/><path d="M2.6 34.80h3.2" stroke="#777" stroke-width="1.28" stroke-opacity="0.40" fill="none"/><path d="M2.6 37.90h3.2" stroke="#777" stroke-width="1.28" stroke-opacity="0.40" fill="none"/><path d="M2.6 41.00h3.2" stroke="#777" stroke-width="1.28" stroke-opacity="0.40" fill="none"/><path d="M2.6 44.10h3.2" stroke="#777" stroke-width="1.28" stroke-opacity="0.40" fill="none"/><path d="M2.6 47.20h3.2" stroke="#777" stroke-width="1.28" stroke-opacity="0.40" fill="none"/><path d="M2.6 50.30h3.2" stroke="#777" stroke-width="1.28" stroke-opacity="0.40" fill="none"/><path d="M2.6 53.40h3.2" stroke="#777" stroke-width="1.28" stroke-opacity="0.40" fill="none"/><path d="M2.6 56.50h3.2" stroke="#777" stroke-width="1.28" stroke-opacity="0.40" fill="none"/><path d="M2.6 59.60h3.2" stroke="#777" stroke-width="1.28" stroke-opacity="0.40" fill="none"/><path d="M2.6 62.70h3.2" stroke="#777" stroke-width="1.28" stroke-opacity="0.40" fill="none"/><path d="M2.6 65.80h3.2" stroke="#777" stroke-width="1.28" stroke-opacity="0.40" fill="none"/><path d="M2.6 68.90h3.2" stroke="#777" stroke-width="1.28" stroke-opacity="0.40" fill="none"/><path d="M2.6 72.00h3.2" stroke="#777" stroke-width="1.28" stroke-opacity="0.40" fill="none"/><path d="M7.0 4.90h2.3M9.9 4.90h3.8" stroke="#2a2a38" stroke-width="1.20" stroke-opacity="0.58" fill="none"/><path d="M14.5 4.90h4.1M19.2 4.90h2.0M21.8 4.90h2.7" stroke="#3565b8" stroke-width="1.20" stroke-opacity="0.58" fill="none"/><path d="M25.0 4.90h3.8M29.4 4.90h4.2M34.2 4.90h2.5M37.3 4.90h3.6M41.5 4.90h3.9M46.1 4.90h0.9" stroke="#b8402f" stroke-width="1.20" stroke-opacity="0.58" fill="none"/><path d="M48.0 4.90h3.1M51.7 4.90h2.6" stroke="#2a2a38" stroke-width="1.20" stroke-opacity="0.58" fill="none"/><path d="M55.5 4.90h1.8" stroke="#2f9a3c" stroke-width="1.20" stroke-opacity="0.58" fill="none"/><path d="M7.0 13.10h2.0" stroke="#2e7d6b" stroke-width="1.44" stroke-opacity="0.65" fill="none"/><path d="M10.0 13.10h3.1M13.7 13.10h2.8M17.1 13.10h1.9M19.6 13.10h2.2M22.4 13.10h1.7M24.7 13.10h2.4M27.7 13.10h1.5M29.9 13.10h2.1" stroke="#2e7d6b" stroke-width="1.52" stroke-opacity="0.61" fill="none"/><path d="M7.0 16.20h4.5M12.1 16.20h2.9" stroke="#2a2a38" stroke-width="1.20" stroke-opacity="0.58" fill="none"/><path d="M15.5 16.20h4.9M21.0 16.20h3.6M25.2 16.20h2.7M28.5 16.20h4.8M33.9 16.20h4.5M39.0 16.20h2.5" stroke="#3565b8" stroke-width="1.20" stroke-opacity="0.58" fill="none"/><path d="M42.0 16.20h4.9M47.5 16.20h4.6M52.7 16.20h3.3" stroke="#2a2a38" stroke-width="1.20" stroke-opacity="0.58" fill="none"/><path d="M7.0 19.30h3.3M10.9 19.30h2.1" stroke="#2a2a38" stroke-width="1.20" stroke-opacity="0.58" fill="none"/><path d="M13.5 19.30h3.0M17.1 19.30h3.0M20.7 19.30h2.4M23.7 19.30h2.8M27.1 19.30h4.5M32.2 19.30h2.4M35.3 19.30h2.2" stroke="#3565b8" stroke-width="1.20" stroke-opacity="0.58" fill="none"/><path d="M38.0 19.30h2.3M40.9 19.30h3.1M44.6 19.30h2.3M47.5 19.30h3.8M51.9 19.30h1.6" stroke="#2a2a38" stroke-width="1.20" stroke-opacity="0.58" fill="none"/><path d="M69.0 18.40h4.4M74.0 18.40h4.6M79.2 18.40h1.8M81.6 18.40h2.2M84.4 18.40h2.8M87.8 18.40h2.7M91.1 18.40h1.9" stroke="#2e7d6b" stroke-width="1.52" stroke-opacity="0.61" fill="none"/><path d="M7.0 22.40h4.3M11.9 22.40h1.1" stroke="#2a2a38" stroke-width="1.20" stroke-opacity="0.58" fill="none"/><path d="M13.5 22.40h2.4M16.5 22.40h4.9M22.0 22.40h2.6M25.3 22.40h4.3M30.2 22.40h3.9" stroke="#3565b8" stroke-width="1.20" stroke-opacity="0.58" fill="none"/><path d="M36.0 22.40h2.1M38.7 22.40h4.1M43.4 22.40h1.9M45.9 22.40h2.1" stroke="#2a2a38" stroke-width="1.20" stroke-opacity="0.58" fill="none"/><path d="M48.5 22.40h3.0M52.1 22.40h1.4" stroke="#2f9a3c" stroke-width="1.20" stroke-opacity="0.58" fill="none"/><path d="M7.0 28.60h2.0" stroke="#2e7d6b" stroke-width="1.44" stroke-opacity="0.65" fill="none"/><path d="M10.0 28.60h1.9M12.5 28.60h2.9M16.1 28.60h4.0M20.7 28.60h4.2M25.5 28.60h2.3M28.4 28.60h3.5M32.5 28.60h2.1" stroke="#2e7d6b" stroke-width="1.52" stroke-opacity="0.61" fill="none"/><path d="M7.0 31.70h2.3M9.9 31.70h3.1" stroke="#2a2a38" stroke-width="1.20" stroke-opacity="0.58" fill="none"/><path d="M13.5 31.70h2.3M16.4 31.70h2.7M19.7 31.70h2.0M22.3 31.70h3.2" stroke="#3565b8" stroke-width="1.20" stroke-opacity="0.58" fill="none"/><path d="M26.0 31.70h3.6M30.2 31.70h2.1M32.9 31.70h1.1" stroke="#2a2a38" stroke-width="1.20" stroke-opacity="0.58" fill="none"/><path d="M7.0 37.90h2.0" stroke="#2e7d6b" stroke-width="1.44" stroke-opacity="0.65" fill="none"/><path d="M10.0 37.90h1.8M12.4 37.90h3.1M16.0 37.90h4.3M20.9 37.90h1.1" stroke="#2e7d6b" stroke-width="1.52" stroke-opacity="0.61" fill="none"/><path d="M7.0 41.00h1.9M9.5 41.00h2.8M12.9 41.00h4.4M17.9 41.00h3.1" stroke="#2a2a38" stroke-width="1.20" stroke-opacity="0.58" fill="none"/><path d="M7.0 44.10h4.8" stroke="#3565b8" stroke-width="1.20" stroke-opacity="0.58" fill="none"/><path d="M12.5 47.00h4.7" stroke="#2a2a38" stroke-width="1.20" stroke-opacity="0.58" fill="none"/><path d="M18.8 47.00h1.8M21.2 47.00h4.1M25.9 47.00h0.9" stroke="#3565b8" stroke-width="1.20" stroke-opacity="0.58" fill="none"/><rect x="27.00" y="45.40" width="30.50" height="3.30" fill="#dcc9e6"/><path d="M27.5 47.00h1.8M29.9 47.00h3.0M33.5 47.00h3.6M37.7 47.00h3.9M42.2 47.00h3.6M46.4 47.00h3.7M50.7 47.00h4.8M56.1 47.00h0.9" stroke="#a0405f" stroke-width="1.12" stroke-opacity="0.54" fill="none"/><path d="M57.8 42.6h2.6M59.1 42.6v7.2M57.8 49.8h2.6" stroke="#6b2d8f" stroke-width="0.9" fill="none"/><path d="M61.0 47.60h1.8M63.4 47.60h2.8M66.8 47.60h1.9M69.3 47.60h4.9M74.8 47.60h4.9M80.3 47.60h3.3M84.2 47.60h0.8" stroke="#b8402f" stroke-width="1.20" stroke-opacity="0.54" fill="none"/><path d="M17.0 51.60h3.5M21.1 51.60h3.9" stroke="#3565b8" stroke-width="1.20" stroke-opacity="0.58" fill="none"/><path d="M25.5 51.60h2.0M28.1 51.60h3.8M32.5 51.60h3.4M36.5 51.60h4.5M41.5 51.60h4.8M47.0 51.60h3.7M51.3 51.60h3.5" stroke="#2a2a38" stroke-width="1.20" stroke-opacity="0.58" fill="none"/><path d="M56.0 51.60h3.6M60.2 51.60h1.6M62.4 51.60h2.8M65.8 51.60h4.2" stroke="#b8402f" stroke-width="1.20" stroke-opacity="0.58" fill="none"/><path d="M70.5 51.60h4.8M75.9 51.60h3.9M80.4 51.60h2.1" stroke="#2a2a38" stroke-width="1.20" stroke-opacity="0.58" fill="none"/><path d="M83.0 51.60h2.6" stroke="#2f9a3c" stroke-width="1.20" stroke-opacity="0.58" fill="none"/><path d="M12.5 55.20h2.5M15.6 55.20h1.8M18.0 55.20h1.8" stroke="#2f9a3c" stroke-width="1.20" stroke-opacity="0.58" fill="none"/><path d="M21.0 55.20h1.7M23.3 55.20h1.7M25.7 55.20h3.5M29.8 55.20h1.9M32.2 55.20h3.8M36.6 55.20h1.5M38.7 55.20h2.9M42.2 55.20h2.7M45.5 55.20h1.5" stroke="#6a3d8f" stroke-width="1.20" stroke-opacity="0.58" fill="none"/><path d="M47.5 55.20h4.1M52.2 55.20h4.4M57.2 55.20h4.3" stroke="#2a2a38" stroke-width="1.20" stroke-opacity="0.58" fill="none"/><path d="M62.0 55.20h1.7M64.3 55.20h5.0" stroke="#b8402f" stroke-width="1.20" stroke-opacity="0.58" fill="none"/><path d="M7.0 58.80h4.1M11.7 58.80h3.3" stroke="#2f9a3c" stroke-width="1.44" stroke-opacity="0.68" fill="none"/><path d="M15.5 58.80h2.1M18.2 58.80h1.7M20.5 58.80h3.8M24.9 58.80h2.6M28.0 58.80h2.1M30.8 58.80h2.7" stroke="#2a2a38" stroke-width="1.20" stroke-opacity="0.58" fill="none"/><path d="M34.0 58.80h2.3M36.9 58.80h1.1" stroke="#3565b8" stroke-width="1.20" stroke-opacity="0.58" fill="none"/><path d="M12.5 62.20h2.6M15.7 62.20h1.6M17.9 62.20h2.6" stroke="#2f9a3c" stroke-width="1.20" stroke-opacity="0.58" fill="none"/><path d="M21.0 62.20h1.9M23.5 62.20h4.9M28.9 62.20h3.2M32.8 62.20h2.2M35.5 62.20h2.7M38.8 62.20h4.4M43.8 62.20h3.0M47.5 62.20h4.3M52.4 62.20h2.6" stroke="#6a3d8f" stroke-width="1.20" stroke-opacity="0.58" fill="none"/><path d="M55.5 62.20h2.6M58.7 62.20h4.8M64.2 62.20h1.3" stroke="#b8402f" stroke-width="1.20" stroke-opacity="0.58" fill="none"/><path d="M12.5 65.60h4.8M17.9 65.60h2.6" stroke="#2f9a3c" stroke-width="1.20" stroke-opacity="0.58" fill="none"/><path d="M21.0 65.60h1.9M23.5 65.60h1.8M25.9 65.60h4.5M31.0 65.60h4.0" stroke="#2a2a38" stroke-width="1.20" stroke-opacity="0.58" fill="none"/><path d="M7.0 71.60h3.3" stroke="#2a2a38" stroke-width="1.20" stroke-opacity="0.58" fill="none"/><path d="M11.5 71.60h4.5M16.6 71.60h3.1" stroke="#3565b8" stroke-width="1.20" stroke-opacity="0.58" fill="none"/><line x1="0.00" y1="76.00" x2="194.50" y2="76.00" stroke="#6f95de" stroke-width="0.45" stroke-dasharray="2.2 0.6"/><path d="M2.6 79.40h4.2M7.4 79.40h1.8M9.9 79.40h4.8M15.2 79.40h4.5M20.3 79.40h2.0M23.0 79.40h2.3M25.9 79.40h2.8M29.2 79.40h4.8M34.7 79.40h1.5M36.8 79.40h4.2M41.6 79.40h3.9M46.1 79.40h1.8M48.6 79.40h2.9M52.1 79.40h2.4M55.1 79.40h3.3M59.0 79.40h3.8M63.4 79.40h2.9M66.9 79.40h2.5M69.9 79.40h2.0M72.5 79.40h4.1" stroke="#222" stroke-width="1.16" stroke-opacity="0.45" fill="none"/><path d="M2.6 82.60h4.0M7.2 82.60h1.7M9.5 82.60h5.0M15.0 82.60h2.0M17.6 82.60h2.7M21.0 82.60h3.4M25.0 82.60h4.6M30.2 82.60h2.4M33.3 82.60h2.9M36.7 82.60h3.4M40.7 82.60h3.2M44.5 82.60h4.3M49.4 82.60h3.2" stroke="#222" stroke-width="1.16" stroke-opacity="0.45" fill="none"/><path d="M2.6 85.80h2.1M5.3 85.80h4.3M10.2 85.80h2.8M13.6 85.80h2.5M16.7 85.80h3.4M20.7 85.80h1.8M23.1 85.80h1.5M25.3 85.80h2.3M28.2 85.80h2.4M31.2 85.80h1.9M33.7 85.80h4.1M38.5 85.80h2.9M41.9 85.80h2.6M45.1 85.80h1.8M47.6 85.80h4.4M52.6 85.80h3.0" stroke="#222" stroke-width="1.16" stroke-opacity="0.45" fill="none"/><path d="M2.6 89.00h2.7M5.9 89.00h3.0M9.5 89.00h3.8M13.9 89.00h3.2M17.7 89.00h4.8M23.1 89.00h2.6M26.4 89.00h4.4M31.4 89.00h4.3M36.3 89.00h3.1M40.0 89.00h2.6" stroke="#222" stroke-width="1.16" stroke-opacity="0.45" fill="none"/><path d="M2.6 92.20h3.7M6.9 92.20h3.5M10.9 92.20h3.4M15.0 92.20h4.4M20.0 92.20h3.2M23.8 92.20h2.3M26.7 92.20h4.9M32.2 92.20h4.1M37.0 92.20h3.0M40.6 92.20h1.5M42.7 92.20h1.9" stroke="#222" stroke-width="1.16" stroke-opacity="0.45" fill="none"/><path d="M2.6 95.40h2.7M5.9 95.40h4.2M10.7 95.40h2.7M14.1 95.40h3.2M17.9 95.40h4.4M22.9 95.40h4.8M28.2 95.40h3.4M32.2 95.40h3.4M36.2 95.40h2.2M39.0 95.40h4.7M44.3 95.40h3.7M48.6 95.40h1.8M51.0 95.40h4.2M55.8 95.40h2.6M59.0 95.40h2.4M62.0 95.40h3.9M66.5 95.40h5.0M72.1 95.40h3.8M76.5 95.40h3.9M81.0 95.40h2.9M84.5 95.40h4.6M89.7 95.40h1.9M92.1 95.40h4.4M97.2 95.40h2.4" stroke="#222" stroke-width="1.16" stroke-opacity="0.45" fill="none"/><rect x="30.00" y="103.90" width="95.00" height="6.80" fill="#e6e6e6"/><line x1="30.00" y1="103.90" x2="125.00" y2="103.90" stroke="#fff" stroke-width="0.45"/><path d="M16.6 107.30h11.0" stroke="#444" stroke-width="1.20" stroke-opacity="0.43" fill="none"/><path d="M75.0 107.40h4.4" stroke="#555" stroke-width="1.12" stroke-opacity="0.40" fill="none"/><rect x="30.00" y="110.70" width="95.00" height="6.80" fill="#f3c7b1"/><line x1="30.00" y1="110.70" x2="125.00" y2="110.70" stroke="#fff" stroke-width="0.45"/><path d="M22.1 114.10h5.5" stroke="#444" stroke-width="1.20" stroke-opacity="0.43" fill="none"/><path d="M75.0 114.20h4.4" stroke="#555" stroke-width="1.12" stroke-opacity="0.40" fill="none"/><rect x="30.00" y="117.50" width="95.00" height="6.80" fill="#efb79e"/><line x1="30.00" y1="117.50" x2="125.00" y2="117.50" stroke="#fff" stroke-width="0.45"/><path d="M23.6 120.90h4.0" stroke="#444" stroke-width="1.20" stroke-opacity="0.43" fill="none"/><path d="M75.0 121.00h4.4" stroke="#555" stroke-width="1.12" stroke-opacity="0.40" fill="none"/><rect x="30.00" y="124.30" width="95.00" height="6.80" fill="#f6d5c4"/><line x1="30.00" y1="124.30" x2="125.00" y2="124.30" stroke="#fff" stroke-width="0.45"/><path d="M20.6 127.70h7.0" stroke="#444" stroke-width="1.20" stroke-opacity="0.43" fill="none"/><path d="M75.0 127.80h4.4" stroke="#555" stroke-width="1.12" stroke-opacity="0.40" fill="none"/><rect x="30.00" y="131.10" width="95.00" height="6.80" fill="#f9e3d7"/><line x1="30.00" y1="131.10" x2="125.00" y2="131.10" stroke="#fff" stroke-width="0.45"/><path d="M18.6 134.50h9.0" stroke="#444" stroke-width="1.20" stroke-opacity="0.43" fill="none"/><path d="M75.0 134.60h4.4" stroke="#555" stroke-width="1.12" stroke-opacity="0.40" fill="none"/><rect x="30.00" y="137.90" width="95.00" height="6.80" fill="#eaa98c"/><line x1="30.00" y1="137.90" x2="125.00" y2="137.90" stroke="#fff" stroke-width="0.45"/><path d="M21.6 141.30h6.0" stroke="#444" stroke-width="1.20" stroke-opacity="0.43" fill="none"/><path d="M75.0 141.40h4.4" stroke="#555" stroke-width="1.12" stroke-opacity="0.40" fill="none"/><rect x="30.00" y="144.70" width="95.00" height="6.80" fill="#e6e6e6"/><line x1="30.00" y1="144.70" x2="125.00" y2="144.70" stroke="#fff" stroke-width="0.45"/><path d="M19.6 148.10h8.0" stroke="#444" stroke-width="1.20" stroke-opacity="0.43" fill="none"/><path d="M75.0 148.20h4.4" stroke="#555" stroke-width="1.12" stroke-opacity="0.40" fill="none"/><rect x="30.00" y="151.50" width="95.00" height="6.80" fill="#f4cdb9"/><line x1="30.00" y1="151.50" x2="125.00" y2="151.50" stroke="#fff" stroke-width="0.45"/><path d="M22.6 154.90h5.0" stroke="#444" stroke-width="1.20" stroke-opacity="0.43" fill="none"/><path d="M75.0 155.00h4.4" stroke="#555" stroke-width="1.12" stroke-opacity="0.40" fill="none"/><path d="M70.0 98.80h4.3M74.9 98.80h1.7M77.2 98.80h1.8M79.5 98.80h2.5M82.6 98.80h3.2M86.4 98.80h2.0M89.1 98.80h1.6M91.3 98.80h4.6M96.4 98.80h4.9M101.9 98.80h5.0M107.5 98.80h4.7M112.8 98.80h1.7M115.0 98.80h2.8M118.5 98.80h4.0M123.0 98.80h1.7M125.4 98.80h3.7M129.7 98.80h2.3" stroke="#333" stroke-width="1.28" stroke-opacity="0.45" fill="none"/><linearGradient id="cb" x1="0" x2="0" y1="0" y2="1"><stop offset="0" stop-color="#d98a70"/><stop offset="0.5" stop-color="#eeb9a0"/><stop offset="1" stop-color="#f6ded3"/></linearGradient><rect x="183.60" y="104.00" width="5.60" height="60.00" fill="url(#cb)"/><path d="M190.0 108.00h2.6" stroke="#555" stroke-width="1.04" stroke-opacity="0.43" fill="none"/><path d="M190.0 121.00h2.6" stroke="#555" stroke-width="1.04" stroke-opacity="0.43" fill="none"/><path d="M190.0 134.50h2.6" stroke="#555" stroke-width="1.04" stroke-opacity="0.43" fill="none"/><path d="M190.0 148.00h2.6" stroke="#555" stroke-width="1.04" stroke-opacity="0.43" fill="none"/>
</g>
</g>
<rect x="27.20" y="288.00" width="404.80" height="1.9" fill="#1c3390"/>
<circle cx="432.00" cy="288.85" r="5" fill="#1c3390"/>
<linearGradient id="sh3" gradientUnits="userSpaceOnUse" x1="580.3" x2="636.3" y1="0" y2="0"><stop offset="0" stop-color="#000" stop-opacity="0.15"/><stop offset="1" stop-color="#000" stop-opacity="0"/></linearGradient>
<polygon filter="url(#blur3)" fill="url(#sh3)" points="576.3,499.0 634.3,533.0 634.3,538.0 576.3,557.0"/>
<g transform="matrix(1 0.3350 0 1 386.10 337.70)">
<path d="M10.10 0.60 L179.60 0.60 A14.00 8.50 0 0 1 193.60 9.10 L193.60 147.60 A9.00 9.00 0 0 1 184.60 156.60 L11.60 156.60 A11.00 12.50 0 0 1 0.60 144.10 L0.60 13.60 A9.50 13.00 0 0 1 10.10 0.60 Z" fill="#fff" stroke="#d2d4d4" stroke-width="1.6"/>
<clipPath id="pc3"><path d="M10.10 2.60 L179.60 2.60 A12.00 6.50 0 0 1 191.60 9.10 L191.60 147.60 A7.00 7.00 0 0 1 184.60 154.60 L11.60 154.60 A9.00 10.50 0 0 1 2.60 144.10 L2.60 13.60 A7.50 11.00 0 0 1 10.10 2.60 Z"/></clipPath>
<g clip-path="url(#pc3)">
<rect x="0.00" y="0.00" width="194.20" height="157.20" fill="#fff"/><rect x="10.50" y="3.20" width="85.00" height="65.60" fill="#fff"/><line x1="14.30" y1="3.20" x2="14.30" y2="68.80" stroke="#d4d4d4" stroke-width="0.45"/><line x1="29.70" y1="3.20" x2="29.70" y2="68.80" stroke="#d4d4d4" stroke-width="0.45"/><line x1="45.10" y1="3.20" x2="45.10" y2="68.80" stroke="#d4d4d4" stroke-width="0.45"/><line x1="60.50" y1="3.20" x2="60.50" y2="68.80" stroke="#d4d4d4" stroke-width="0.45"/><line x1="75.90" y1="3.20" x2="75.90" y2="68.80" stroke="#d4d4d4" stroke-width="0.45"/><line x1="91.30" y1="3.20" x2="91.30" y2="68.80" stroke="#d4d4d4" stroke-width="0.45"/><line x1="10.50" y1="11.25" x2="95.50" y2="11.25" stroke="#d4d4d4" stroke-width="0.45"/><line x1="10.50" y1="20.65" x2="95.50" y2="20.65" stroke="#d4d4d4" stroke-width="0.45"/><line x1="10.50" y1="30.05" x2="95.50" y2="30.05" stroke="#d4d4d4" stroke-width="0.45"/><line x1="10.50" y1="39.45" x2="95.50" y2="39.45" stroke="#d4d4d4" stroke-width="0.45"/><line x1="10.50" y1="48.85" x2="95.50" y2="48.85" stroke="#d4d4d4" stroke-width="0.45"/><line x1="10.50" y1="58.25" x2="95.50" y2="58.25" stroke="#d4d4d4" stroke-width="0.45"/><line x1="10.50" y1="67.65" x2="95.50" y2="67.65" stroke="#d4d4d4" stroke-width="0.45"/><path d="M5.2 11.25h3.2" stroke="#444" stroke-width="1.20" stroke-opacity="0.47" fill="none"/><path d="M5.2 20.65h3.2" stroke="#444" stroke-width="1.20" stroke-opacity="0.47" fill="none"/><path d="M5.2 30.05h3.2" stroke="#444" stroke-width="1.20" stroke-opacity="0.47" fill="none"/><path d="M5.2 39.45h3.2" stroke="#444" stroke-width="1.20" stroke-opacity="0.47" fill="none"/><path d="M5.2 48.85h3.2" stroke="#444" stroke-width="1.20" stroke-opacity="0.47" fill="none"/><path d="M5.2 58.25h3.2" stroke="#444" stroke-width="1.20" stroke-opacity="0.47" fill="none"/><path d="M5.2 67.65h3.2" stroke="#444" stroke-width="1.20" stroke-opacity="0.47" fill="none"/><path d="M3.6 28v13" stroke="#444" stroke-width="1.5" stroke-opacity="0.6" stroke-dasharray="5 0.8"/><polyline fill="none" stroke="#5a9e4a" stroke-width="0.58" stroke-linejoin="round" points="14.30,20.00 18.00,19.60 20.00,19.20 23.00,18.40 25.00,17.60 27.00,17.80 29.00,16.60 31.00,16.80 33.00,15.00 35.00,14.20 37.00,12.60 39.00,11.00 41.00,9.80 43.00,8.90 46.00,9.60 49.00,9.80 51.20,10.20 54.00,12.50 56.50,16.50 58.60,21.40 61.00,28.00 63.00,33.50 64.90,38.00 68.00,44.00 72.00,49.50 76.00,53.50 82.00,58.50 88.00,63.00 93.50,66.50"/><polyline fill="none" stroke="#3f58c4" stroke-width="0.58" stroke-linejoin="round" points="14.30,35.00 16.50,36.50 18.50,33.00 21.00,30.00 23.00,28.50 24.90,25.85 27.00,26.50 29.00,23.00 31.00,19.50 32.40,18.30 34.00,18.80 36.00,16.00 38.00,14.00 40.00,13.20 43.00,9.80 45.50,10.20 48.50,9.60 50.00,7.20 51.10,6.60 53.00,6.40 60.00,6.00 70.00,5.60 80.00,5.40 86.10,5.35"/><line x1="86.10" y1="5.35" x2="93.00" y2="5.30" stroke="#3f58c4" stroke-width="0.75" stroke-dasharray="1.5 1"/><polyline fill="none" stroke="#e2582c" stroke-width="0.58" stroke-linejoin="round" points="14.30,66.90 16.50,67.60 18.50,63.50 21.00,59.00 23.00,56.50 24.90,52.70 27.00,53.40 29.00,49.00 31.00,44.50 32.40,42.00 34.00,42.60 36.00,39.00 38.00,36.50 40.00,35.00 43.00,31.00 45.00,32.00 47.00,33.20 49.00,35.00 50.00,33.50 51.10,33.90 53.00,35.50 55.00,38.00 56.50,37.40 58.60,42.70 61.00,47.00 63.00,52.00 64.90,55.60 68.00,60.00 72.00,63.50 77.00,66.00 80.00,67.00"/><circle cx="43.00" cy="8.90" r="1.20" fill="#1f6b2a"/><circle cx="86.10" cy="5.35" r="1.20" fill="#1f2f9a"/><circle cx="43.00" cy="31.00" r="1.20" fill="#d23b1e"/><line x1="58.80" y1="29.40" x2="63.00" y2="29.40" stroke="#3f58c4" stroke-width="0.70"/><path d="M65.0 29.40h5.9M71.5 29.40h3.5" stroke="#333" stroke-width="1.04" stroke-opacity="0.50" fill="none"/><line x1="58.80" y1="32.95" x2="63.00" y2="32.95" stroke="#5a9e4a" stroke-width="0.70"/><path d="M65.0 32.95h4.0M69.6 32.95h5.4" stroke="#333" stroke-width="1.04" stroke-opacity="0.50" fill="none"/><line x1="58.80" y1="36.50" x2="63.00" y2="36.50" stroke="#e2582c" stroke-width="0.70"/><path d="M65.0 36.50h2.0M67.6 36.50h4.9M73.1 36.50h0.9" stroke="#333" stroke-width="1.04" stroke-opacity="0.50" fill="none"/><circle cx="61.00" cy="40.05" r="0.90" fill="#1f2f9a"/><path d="M65.0 40.05h3.4M69.0 40.05h4.7M74.3 40.05h5.3M80.2 40.05h5.4M86.2 40.05h4.7" stroke="#333" stroke-width="1.04" stroke-opacity="0.50" fill="none"/><circle cx="61.00" cy="43.60" r="0.90" fill="#1f6b2a"/><path d="M65.0 43.60h3.1M68.7 43.60h3.0M72.3 43.60h5.6M78.5 43.60h2.6M81.7 43.60h4.3" stroke="#333" stroke-width="1.04" stroke-opacity="0.50" fill="none"/><circle cx="61.00" cy="47.15" r="0.90" fill="#d23b1e"/><path d="M65.0 47.15h2.8M68.4 47.15h5.9M74.9 47.15h2.4M77.9 47.15h4.2M82.7 47.15h4.6M87.9 47.15h3.1" stroke="#333" stroke-width="1.04" stroke-opacity="0.50" fill="none"/><rect x="10.50" y="3.20" width="85.00" height="65.60" fill="none" stroke="#6a6a6a" stroke-width="0.55"/><path d="M13.0 71.20h2.8" stroke="#444" stroke-width="1.12" stroke-opacity="0.43" fill="none"/><path d="M28.4 71.20h2.8" stroke="#444" stroke-width="1.12" stroke-opacity="0.43" fill="none"/><path d="M43.8 71.20h2.8" stroke="#444" stroke-width="1.12" stroke-opacity="0.43" fill="none"/><path d="M59.2 71.20h2.8" stroke="#444" stroke-width="1.12" stroke-opacity="0.43" fill="none"/><path d="M74.6 71.20h2.8" stroke="#444" stroke-width="1.12" stroke-opacity="0.43" fill="none"/><path d="M90.0 71.20h2.8" stroke="#444" stroke-width="1.12" stroke-opacity="0.43" fill="none"/><path d="M44.0 74.40h14.0" stroke="#444" stroke-width="1.20" stroke-opacity="0.40" fill="none"/><rect x="108.80" y="3.60" width="83.60" height="65.60" fill="#fff"/><line x1="112.65" y1="3.60" x2="112.65" y2="69.20" stroke="#d4d4d4" stroke-width="0.45"/><line x1="127.65" y1="3.60" x2="127.65" y2="69.20" stroke="#d4d4d4" stroke-width="0.45"/><line x1="142.65" y1="3.60" x2="142.65" y2="69.20" stroke="#d4d4d4" stroke-width="0.45"/><line x1="157.65" y1="3.60" x2="157.65" y2="69.20" stroke="#d4d4d4" stroke-width="0.45"/><line x1="172.65" y1="3.60" x2="172.65" y2="69.20" stroke="#d4d4d4" stroke-width="0.45"/><line x1="187.65" y1="3.60" x2="187.65" y2="69.20" stroke="#d4d4d4" stroke-width="0.45"/><line x1="108.80" y1="9.40" x2="192.40" y2="9.40" stroke="#d4d4d4" stroke-width="0.45"/><line x1="108.80" y1="23.40" x2="192.40" y2="23.40" stroke="#d4d4d4" stroke-width="0.45"/><line x1="108.80" y1="37.40" x2="192.40" y2="37.40" stroke="#d4d4d4" stroke-width="0.45"/><line x1="108.80" y1="51.40" x2="192.40" y2="51.40" stroke="#d4d4d4" stroke-width="0.45"/><line x1="108.80" y1="65.40" x2="192.40" y2="65.40" stroke="#d4d4d4" stroke-width="0.45"/><path d="M100.6 9.40h6.6" stroke="#444" stroke-width="1.20" stroke-opacity="0.47" fill="none"/><path d="M100.6 23.40h6.6" stroke="#444" stroke-width="1.20" stroke-opacity="0.47" fill="none"/><path d="M100.6 37.40h6.6" stroke="#444" stroke-width="1.20" stroke-opacity="0.47" fill="none"/><path d="M100.6 51.40h6.6" stroke="#444" stroke-width="1.20" stroke-opacity="0.47" fill="none"/><path d="M100.6 65.40h6.6" stroke="#444" stroke-width="1.20" stroke-opacity="0.47" fill="none"/><path d="M98.6 30v12" stroke="#444" stroke-width="1.4" stroke-opacity="0.55" stroke-dasharray="4 0.8"/><polyline fill="none" stroke="#5a9e4a" stroke-width="0.55" stroke-linejoin="round" points="112.40,35.40 120.00,35.80 127.00,36.00 133.90,36.30 140.00,36.80 144.00,37.20 147.65,37.90 150.00,40.50 153.00,45.50 156.00,50.40 158.90,54.00 163.00,58.20 168.00,61.60 173.90,64.20 180.00,66.40 190.00,68.20"/><polyline fill="none" stroke="#e2582c" stroke-width="0.58" stroke-linejoin="round" points="112.40,5.60 114.00,5.40 116.00,6.40 118.00,8.80 120.00,9.60 122.00,12.00 124.90,15.50 127.00,16.60 129.00,19.00 131.00,19.60 133.90,20.40 136.00,24.00 138.00,27.60 140.00,30.00 142.00,31.00 144.00,33.60 146.00,35.50 147.65,37.80 150.00,42.00 153.00,47.00 156.00,51.50 158.90,54.50 163.00,58.50 168.00,61.80 173.90,64.40 180.00,66.60 190.00,68.40"/><polyline fill="none" stroke="#3f58c4" stroke-width="0.58" stroke-linejoin="round" points="112.40,66.60 114.00,67.00 116.00,64.50 118.00,63.00 120.00,61.50 122.00,59.50 124.00,60.00 126.00,57.00 128.00,55.50 130.00,53.00 132.00,52.40 133.90,47.60 136.00,48.20 138.00,45.80 140.00,46.20 142.00,43.40 144.00,42.60 146.00,39.60 147.65,37.80 150.00,32.50 153.00,26.50 156.00,20.50 158.90,16.00 162.00,12.40 166.40,10.10 172.00,8.60 180.00,7.40 190.00,6.40"/><polyline fill="none" stroke="#f0a83a" stroke-width="0.58" stroke-linejoin="round" points="112.40,66.60 118.00,66.80 126.00,66.80 133.90,66.40 140.00,65.60 146.40,63.40 150.00,59.50 153.00,55.00 156.40,50.00 160.00,45.60 164.00,42.60 168.00,40.40 173.00,38.60 178.90,37.40 185.00,36.60 190.15,36.10"/><line x1="139.00" y1="7.40" x2="143.40" y2="7.40" stroke="#5a9e4a" stroke-width="0.70"/><path d="M145.0 7.40h3.7M149.3 7.40h2.6M152.5 7.40h4.8M157.9 7.40h4.1" stroke="#333" stroke-width="1.04" stroke-opacity="0.50" fill="none"/><line x1="139.00" y1="10.90" x2="143.40" y2="10.90" stroke="#e2582c" stroke-width="0.70"/><path d="M145.0 10.90h3.8M149.4 10.90h3.4M153.4 10.90h5.5M159.5 10.90h2.2" stroke="#333" stroke-width="1.04" stroke-opacity="0.50" fill="none"/><line x1="139.00" y1="14.40" x2="143.40" y2="14.40" stroke="#3f58c4" stroke-width="0.70"/><path d="M145.0 14.40h5.5M151.1 14.40h3.5M155.2 14.40h4.7M160.5 14.40h2.5" stroke="#333" stroke-width="1.04" stroke-opacity="0.50" fill="none"/><line x1="139.00" y1="17.90" x2="143.40" y2="17.90" stroke="#f0a83a" stroke-width="0.70"/><path d="M145.0 17.90h4.3M149.9 17.90h4.6M155.1 17.90h3.5M159.3 17.90h4.7" stroke="#333" stroke-width="1.04" stroke-opacity="0.50" fill="none"/><rect x="108.80" y="3.60" width="83.60" height="65.60" fill="none" stroke="#6a6a6a" stroke-width="0.55"/><path d="M111.2 71.60h2.8" stroke="#444" stroke-width="1.12" stroke-opacity="0.43" fill="none"/><path d="M126.2 71.60h2.8" stroke="#444" stroke-width="1.12" stroke-opacity="0.43" fill="none"/><path d="M141.2 71.60h2.8" stroke="#444" stroke-width="1.12" stroke-opacity="0.43" fill="none"/><path d="M156.2 71.60h2.8" stroke="#444" stroke-width="1.12" stroke-opacity="0.43" fill="none"/><path d="M171.2 71.60h2.8" stroke="#444" stroke-width="1.12" stroke-opacity="0.43" fill="none"/><path d="M186.2 71.60h2.8" stroke="#444" stroke-width="1.12" stroke-opacity="0.43" fill="none"/><path d="M143.0 74.80h14.0" stroke="#444" stroke-width="1.20" stroke-opacity="0.40" fill="none"/><rect x="10.70" y="84.20" width="84.90" height="67.80" fill="#fff"/><line x1="13.90" y1="84.20" x2="13.90" y2="152.00" stroke="#d4d4d4" stroke-width="0.45"/><line x1="29.30" y1="84.20" x2="29.30" y2="152.00" stroke="#d4d4d4" stroke-width="0.45"/><line x1="44.70" y1="84.20" x2="44.70" y2="152.00" stroke="#d4d4d4" stroke-width="0.45"/><line x1="60.10" y1="84.20" x2="60.10" y2="152.00" stroke="#d4d4d4" stroke-width="0.45"/><line x1="75.50" y1="84.20" x2="75.50" y2="152.00" stroke="#d4d4d4" stroke-width="0.45"/><line x1="90.90" y1="84.20" x2="90.90" y2="152.00" stroke="#d4d4d4" stroke-width="0.45"/><line x1="10.70" y1="87.00" x2="95.60" y2="87.00" stroke="#d4d4d4" stroke-width="0.45"/><line x1="10.70" y1="95.50" x2="95.60" y2="95.50" stroke="#d4d4d4" stroke-width="0.45"/><line x1="10.70" y1="104.00" x2="95.60" y2="104.00" stroke="#d4d4d4" stroke-width="0.45"/><line x1="10.70" y1="112.50" x2="95.60" y2="112.50" stroke="#d4d4d4" stroke-width="0.45"/><line x1="10.70" y1="121.00" x2="95.60" y2="121.00" stroke="#d4d4d4" stroke-width="0.45"/><line x1="10.70" y1="129.50" x2="95.60" y2="129.50" stroke="#d4d4d4" stroke-width="0.45"/><line x1="10.70" y1="138.00" x2="95.60" y2="138.00" stroke="#d4d4d4" stroke-width="0.45"/><line x1="10.70" y1="146.50" x2="95.60" y2="146.50" stroke="#d4d4d4" stroke-width="0.45"/><path d="M5.6 87.00h3.2" stroke="#444" stroke-width="1.20" stroke-opacity="0.47" fill="none"/><path d="M5.6 95.50h3.2" stroke="#444" stroke-width="1.20" stroke-opacity="0.47" fill="none"/><path d="M5.6 104.00h3.2" stroke="#444" stroke-width="1.20" stroke-opacity="0.47" fill="none"/><path d="M5.6 112.50h3.2" stroke="#444" stroke-width="1.20" stroke-opacity="0.47" fill="none"/><path d="M5.6 121.00h3.2" stroke="#444" stroke-width="1.20" stroke-opacity="0.47" fill="none"/><path d="M5.6 129.50h3.2" stroke="#444" stroke-width="1.20" stroke-opacity="0.47" fill="none"/><path d="M5.6 138.00h3.2" stroke="#444" stroke-width="1.20" stroke-opacity="0.47" fill="none"/><path d="M5.6 146.50h3.2" stroke="#444" stroke-width="1.20" stroke-opacity="0.47" fill="none"/><path d="M3.6 108v12" stroke="#444" stroke-width="1.4" stroke-opacity="0.55" stroke-dasharray="4 0.8"/><path d="M35.0 80.60h2.0M37.6 80.60h5.8M44.0 80.60h4.7M49.3 80.60h3.6M53.5 80.60h3.8M57.9 80.60h4.7M63.2 80.60h3.8" stroke="#222" stroke-width="1.28" stroke-opacity="0.50" fill="none"/><line x1="14.40" y1="85.00" x2="14.40" y2="148.50" stroke="#7a2d98" stroke-width="0.85"/><polyline fill="none" stroke="#7a2d98" stroke-width="0.62" stroke-linejoin="round" points="14.40,127.80 15.20,128.60 17.00,129.40 20.00,130.10 25.00,130.60 32.40,131.10 45.00,131.70 57.40,132.20 70.00,132.70 80.00,133.10 85.00,133.40 88.40,133.80 89.40,136.00 90.20,140.00 90.80,144.50 91.20,148.50"/><circle cx="14.60" cy="127.80" r="0.90" fill="#7a2d98"/><circle cx="88.60" cy="133.80" r="1.20" fill="#5a1a7a"/><line x1="68.00" y1="87.60" x2="71.00" y2="87.60" stroke="#7a2d98" stroke-width="0.70"/><path d="M73.0 87.60h19.0" stroke="#333" stroke-width="1.20" stroke-opacity="0.50" fill="none"/><circle cx="69.50" cy="91.40" r="0.90" fill="#5a1a7a"/><path d="M73.0 91.40h14.0" stroke="#333" stroke-width="1.20" stroke-opacity="0.50" fill="none"/><rect x="10.70" y="84.20" width="84.90" height="67.80" fill="none" stroke="#6a6a6a" stroke-width="0.55"/><rect x="108.80" y="84.80" width="83.60" height="66.80" fill="#fff"/><line x1="112.40" y1="84.80" x2="112.40" y2="151.60" stroke="#d4d4d4" stroke-width="0.45"/><line x1="127.70" y1="84.80" x2="127.70" y2="151.60" stroke="#d4d4d4" stroke-width="0.45"/><line x1="143.00" y1="84.80" x2="143.00" y2="151.60" stroke="#d4d4d4" stroke-width="0.45"/><line x1="158.30" y1="84.80" x2="158.30" y2="151.60" stroke="#d4d4d4" stroke-width="0.45"/><line x1="173.60" y1="84.80" x2="173.60" y2="151.60" stroke="#d4d4d4" stroke-width="0.45"/><line x1="188.90" y1="84.80" x2="188.90" y2="151.60" stroke="#d4d4d4" stroke-width="0.45"/><line x1="108.80" y1="87.35" x2="192.40" y2="87.35" stroke="#d4d4d4" stroke-width="0.45"/><line x1="108.80" y1="99.45" x2="192.40" y2="99.45" stroke="#d4d4d4" stroke-width="0.45"/><line x1="108.80" y1="111.55" x2="192.40" y2="111.55" stroke="#d4d4d4" stroke-width="0.45"/><line x1="108.80" y1="123.65" x2="192.40" y2="123.65" stroke="#d4d4d4" stroke-width="0.45"/><line x1="108.80" y1="135.75" x2="192.40" y2="135.75" stroke="#d4d4d4" stroke-width="0.45"/><line x1="108.80" y1="147.85" x2="192.40" y2="147.85" stroke="#d4d4d4" stroke-width="0.45"/><path d="M103.4 87.35h3.2" stroke="#444" stroke-width="1.20" stroke-opacity="0.47" fill="none"/><path d="M103.4 99.45h3.2" stroke="#444" stroke-width="1.20" stroke-opacity="0.47" fill="none"/><path d="M103.4 111.55h3.2" stroke="#444" stroke-width="1.20" stroke-opacity="0.47" fill="none"/><path d="M103.4 123.65h3.2" stroke="#444" stroke-width="1.20" stroke-opacity="0.47" fill="none"/><path d="M103.4 135.75h3.2" stroke="#444" stroke-width="1.20" stroke-opacity="0.47" fill="none"/><path d="M103.4 147.85h3.2" stroke="#444" stroke-width="1.20" stroke-opacity="0.47" fill="none"/><path d="M100.2 96v34" stroke="#444" stroke-width="1.4" stroke-opacity="0.55" stroke-dasharray="4 0.8"/><path d="M126.0 81.20h5.4M132.0 81.20h6.0M138.6 81.20h3.0M142.2 81.20h4.5M147.2 81.20h3.3M151.2 81.20h3.9M155.6 81.20h2.2M158.4 81.20h5.9M164.9 81.20h3.6M169.1 81.20h5.8" stroke="#222" stroke-width="1.28" stroke-opacity="0.50" fill="none"/><line x1="111.90" y1="147.80" x2="190.15" y2="87.35" stroke="#222" stroke-width="0.70"/><polyline fill="none" stroke="#f0942e" stroke-width="0.62" stroke-linejoin="round" points="111.90,147.80 116.00,142.00 120.00,136.50 126.00,128.60 133.90,117.90 140.00,109.60 145.00,102.60 148.90,97.90 151.00,95.40 153.00,93.00 155.00,90.40 156.40,89.65 158.00,90.00 160.00,89.60 166.00,89.20 173.90,88.40 182.00,87.90 190.15,87.35"/><circle cx="156.40" cy="89.65" r="1.00" fill="#ef7d14"/><line x1="110.60" y1="88.40" x2="113.40" y2="88.40" stroke="#f0942e" stroke-width="0.70"/><path d="M115.0 88.40h24.0" stroke="#333" stroke-width="1.20" stroke-opacity="0.50" fill="none"/><circle cx="112.00" cy="92.00" r="0.90" fill="#ef7d14"/><path d="M115.0 92.00h20.0" stroke="#333" stroke-width="1.20" stroke-opacity="0.50" fill="none"/><rect x="108.80" y="84.80" width="83.60" height="66.80" fill="none" stroke="#6a6a6a" stroke-width="0.55"/><line x1="108.80" y1="152.00" x2="192.40" y2="152.00" stroke="#333" stroke-width="0.60" stroke-dasharray="2 1.2"/><line x1="10.70" y1="152.10" x2="95.60" y2="152.10" stroke="#333" stroke-width="0.60" stroke-dasharray="2 1.2"/><path d="M111.0 155.00h2.8" stroke="#444" stroke-width="1.12" stroke-opacity="0.43" fill="none"/><path d="M12.4 155.00h2.8" stroke="#444" stroke-width="1.12" stroke-opacity="0.43" fill="none"/><path d="M126.3 155.00h2.8" stroke="#444" stroke-width="1.12" stroke-opacity="0.43" fill="none"/><path d="M27.8 155.00h2.8" stroke="#444" stroke-width="1.12" stroke-opacity="0.43" fill="none"/><path d="M141.6 155.00h2.8" stroke="#444" stroke-width="1.12" stroke-opacity="0.43" fill="none"/><path d="M43.2 155.00h2.8" stroke="#444" stroke-width="1.12" stroke-opacity="0.43" fill="none"/><path d="M156.9 155.00h2.8" stroke="#444" stroke-width="1.12" stroke-opacity="0.43" fill="none"/><path d="M58.6 155.00h2.8" stroke="#444" stroke-width="1.12" stroke-opacity="0.43" fill="none"/><path d="M172.2 155.00h2.8" stroke="#444" stroke-width="1.12" stroke-opacity="0.43" fill="none"/><path d="M74.0 155.00h2.8" stroke="#444" stroke-width="1.12" stroke-opacity="0.43" fill="none"/><path d="M187.5 155.00h2.8" stroke="#444" stroke-width="1.12" stroke-opacity="0.43" fill="none"/><path d="M89.4 155.00h2.8" stroke="#444" stroke-width="1.12" stroke-opacity="0.43" fill="none"/>
</g>
</g>
<rect x="575.50" y="470.55" width="555.50" height="1.9" fill="#1c3390"/>
<circle cx="575.60" cy="471.50" r="5" fill="#1c3390"/>
</svg>
</body></html>
